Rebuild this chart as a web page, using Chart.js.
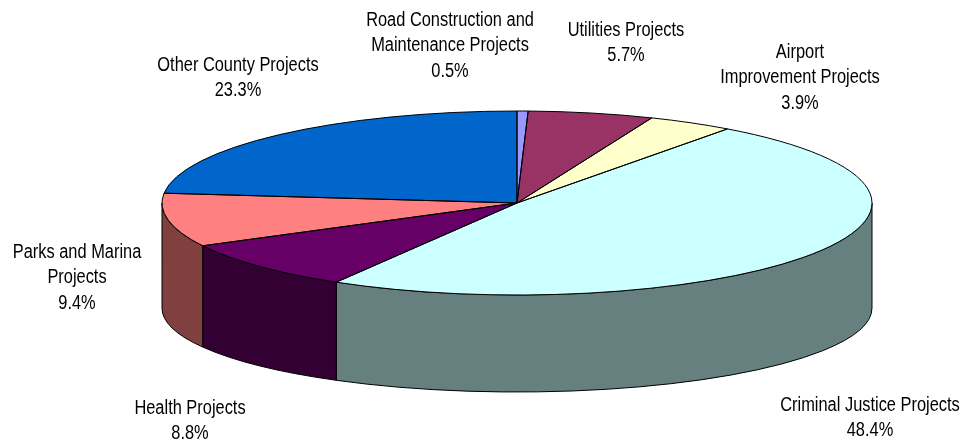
<!DOCTYPE html>
<html><head><meta charset="utf-8">
<script src="https://cdn.jsdelivr.net/npm/chart.js@4.4.1/dist/chart.umd.min.js"></script>
<style>html,body{margin:0;padding:0;background:#fff;}canvas{display:block;}</style>
</head><body>
<canvas id="c" width="963" height="445"></canvas>
<script>
// ---- data ----
const categories = ["Road Construction and Maintenance Projects","Utilities Projects","Airport Improvement Projects","Criminal Justice Projects","Health Projects","Parks and Marina Projects","Other County Projects"];
const shares = [0.5, 5.7, 3.9, 48.4, 8.8, 9.4, 23.3];
const labelLines = [["Road Construction and","Maintenance Projects"],["Utilities Projects"],["Airport","Improvement Projects"],["Criminal Justice Projects"],["Health Projects"],["Parks and Marina","Projects"],["Other County Projects"]];
const sliceColors = ["#9999FF","#993366","#FFFFCC","#CCFFFF","#660066","#FF8080","#0066CC"];

// ---- style / layout ----
const P = {cx:517, cy:203, rx:355, ry:92, bcy:308, bry:84};
const LABEL_POS = [[450,20],[626,30],[800,52],[870,405],[190,408],[77,252],[238,65]];
const LINE_H = 25.5;

function shade(hex){
  const n=parseInt(hex.slice(1),16);
  const r=(n>>16)&255,g=(n>>8)&255,b=n&255;
  return 'rgb('+Math.round(r/2)+','+Math.round(g/2)+','+Math.round(b/2)+')';
}
function narrowAvailable(){
  const c=document.createElement('canvas').getContext('2d');
  c.font='20px monospace'; const w1=c.measureText('Other County Projects').width;
  c.font='20px "Liberation Sans Narrow", monospace'; const w2=c.measureText('Other County Projects').width;
  return Math.abs(w1-w2)>0.5;
}
const NARROW = narrowAvailable();

const pie3d = {
  id:'pie3d',
  beforeDatasetsDraw(chart){
    const ctx=chart.ctx, meta=chart.getDatasetMeta(0);
    meta.data.forEach((arc,i)=>{
      const s=Math.max(arc.startAngle,0), e=Math.min(arc.endAngle,Math.PI);
      if(e<=s) return;
      ctx.beginPath();
      ctx.ellipse(P.cx,P.cy,P.rx,P.ry,0,s,e);
      ctx.lineTo(P.cx+P.rx*Math.cos(e), P.bcy+P.bry*Math.sin(e));
      ctx.ellipse(P.cx,P.bcy,P.rx,P.bry,0,e,s,true);
      ctx.closePath();
      ctx.fillStyle=shade(sliceColors[i]); ctx.fill();
      ctx.lineWidth=1; ctx.strokeStyle='#000'; ctx.stroke();
    });
    const a=meta.data[0];
    ctx.save();
    ctx.translate(P.cx,P.cy);
    ctx.scale(P.rx/a.outerRadius,P.ry/a.outerRadius);
    ctx.translate(-a.x,-a.y);
  },
  afterDatasetsDraw(chart){
    const ctx=chart.ctx, meta=chart.getDatasetMeta(0);
    ctx.restore();
    ctx.lineWidth=1; ctx.strokeStyle='#000';
    meta.data.forEach(arc=>{
      ctx.beginPath();
      ctx.moveTo(P.cx,P.cy);
      ctx.ellipse(P.cx,P.cy,P.rx,P.ry,0,arc.startAngle,arc.endAngle);
      ctx.closePath();
      ctx.stroke();
    });
  },
  afterDraw(chart){
    const ctx=chart.ctx;
    ctx.save();
    ctx.fillStyle='#000';
    ctx.textAlign='center'; ctx.textBaseline='middle';
    ctx.font = NARROW ? '20px "Liberation Sans Narrow"' : '20px "Liberation Sans", Arial, sans-serif';
    labelLines.forEach((lines,i)=>{
      const all=lines.concat([shares[i].toFixed(1)+'%']);
      const [x,y]=LABEL_POS[i];
      all.forEach((t,k)=>{
        ctx.save();
        ctx.translate(x,y+k*LINE_H);
        if(!NARROW) ctx.scale(0.82,1);
        ctx.fillText(t,0,0);
        ctx.restore();
      });
    });
    ctx.restore();
  }
};

new Chart(document.getElementById('c'),{
  type:'pie',
  data:{labels:categories,datasets:[{data:shares,backgroundColor:sliceColors,borderWidth:0,clip:false}]},
  options:{responsive:false,animation:false,events:[],
    layout:{padding:0},
    plugins:{legend:{display:false},tooltip:{enabled:false}}},
  plugins:[pie3d]
});
</script>
</body></html>
